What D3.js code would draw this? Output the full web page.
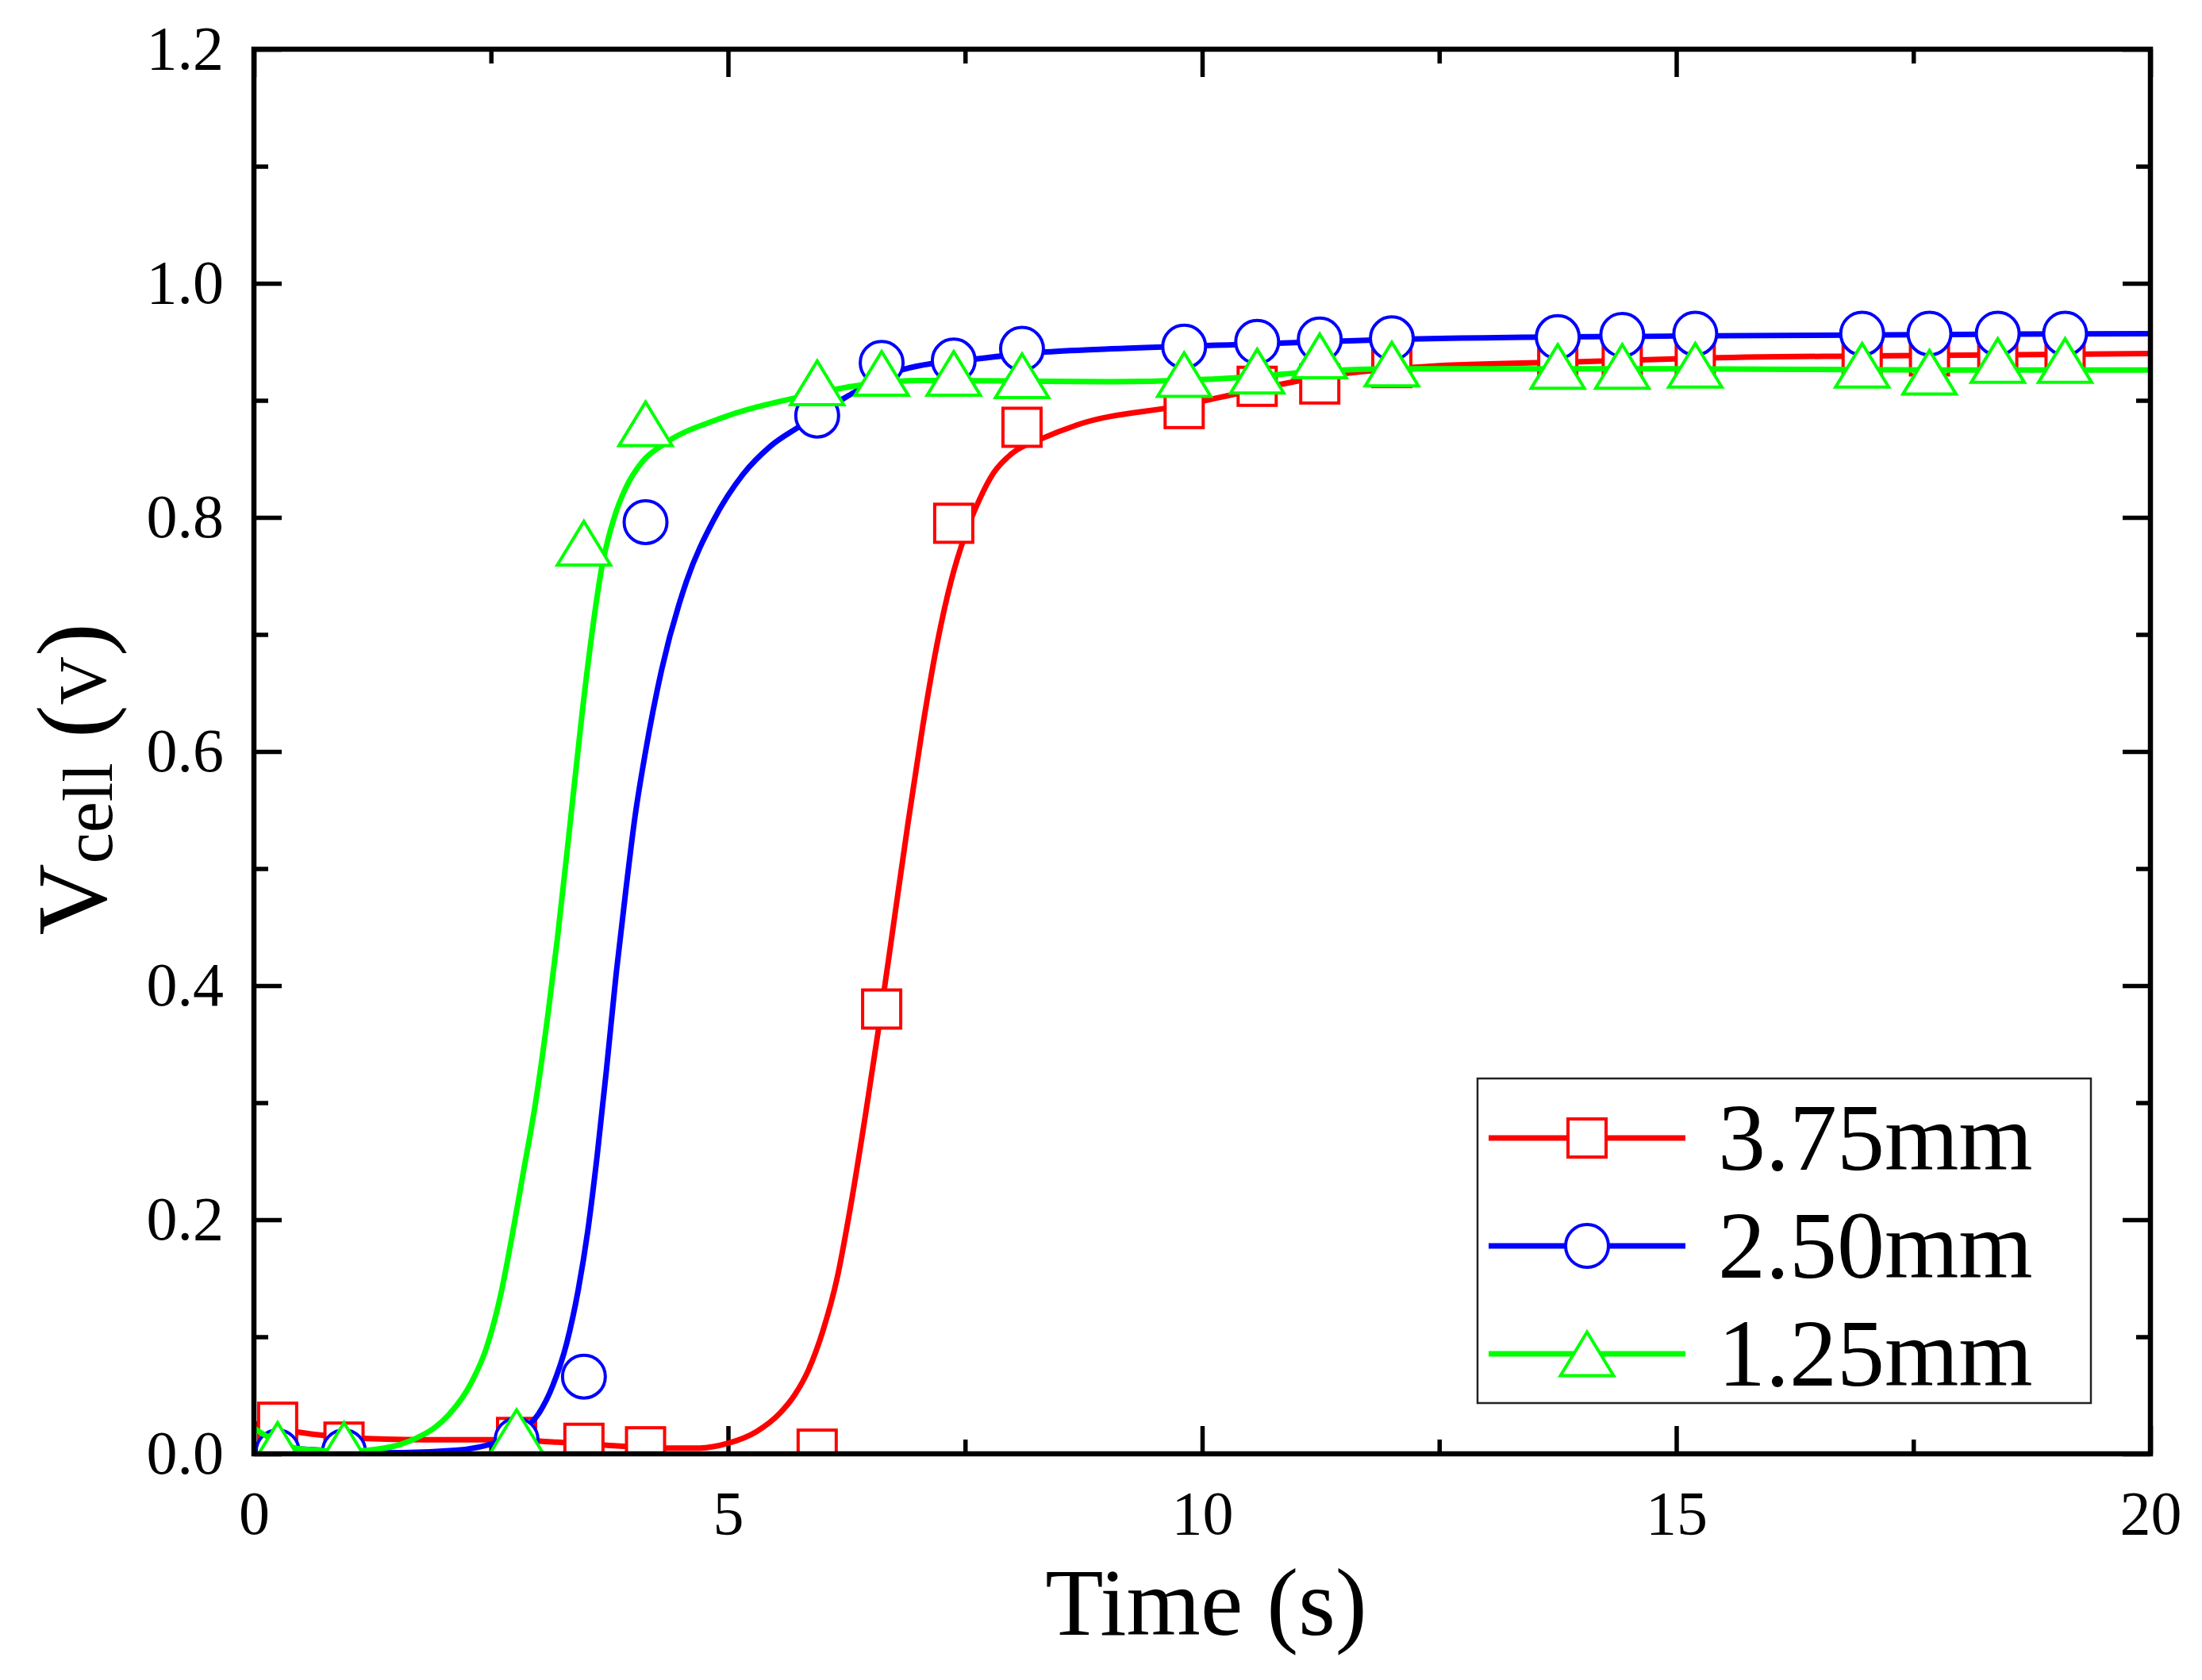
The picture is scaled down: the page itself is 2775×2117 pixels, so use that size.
<!DOCTYPE html>
<html>
<head>
<meta charset="utf-8">
<script src="https://cdn.jsdelivr.net/npm/d3@7"></script>
<style>
  body { margin: 0; background: #fff; }
  svg { display: block; }
</style>
</head>
<body>
<div id="chart"></div>
<script>
// values
const seriesNames = ["3.75mm", "2.50mm", "1.25mm"];
const seriesColors = ["#FF0000", "#0000FF", "#00FF00"];
const seriesSymbols = ["square", "circle", "triangle"];

const xTicks = [0, 5, 10, 15, 20];
const xMinorTicks = [2.5, 7.5, 12.5, 17.5];
const yTicks = [0, 0.2, 0.4, 0.6, 0.8, 1.0, 1.2];
const yMinorTicks = [0.1, 0.3, 0.5, 0.7, 0.9, 1.1];

// measured points (symbols)
const markerTimes = [0.25, 0.95, 2.77, 3.48, 4.13, 5.94, 6.62, 7.38, 8.10, 9.81,
                     10.58, 11.24, 12.0, 13.75, 14.43, 15.2, 16.96, 17.67, 18.39, 19.1];
const points375 = [0.027, 0.010, 0.014, 0.009, 0.006, 0.004, 0.380, 0.795, 0.877, 0.893,
                   0.912, 0.914, 0.928, 0.932, 0.934, 0.937, 0.938, 0.938, 0.938, 0.938];
const points250 = [0.002, 0.002, 0.012, 0.066, 0.796, 0.887, 0.932, 0.934, 0.944, 0.946,
                   0.950, 0.952, 0.953, 0.954, 0.956, 0.957, 0.957, 0.957, 0.957, 0.957];
const points125 = [0.008, 0.008, 0.019, 0.778, 0.880, 0.915, 0.923, 0.923, 0.921, 0.922,
                   0.925, 0.938, 0.931, 0.929, 0.929, 0.930, 0.930, 0.924, 0.934, 0.934];

// fitted curves [time, V]
const fit375 = [[0, 0.026], [0.6, 0.017], [1.2, 0.013], [2.0, 0.012], [2.6, 0.012], [3.2, 0.010],
  [3.8, 0.007], [4.3, 0.005], [4.7, 0.005], [5.0, 0.009], [5.3, 0.019], [5.55, 0.035], [5.7, 0.050],
  [5.85, 0.072], [6.0, 0.105], [6.15, 0.150], [6.3, 0.215], [6.45, 0.290], [6.6, 0.370],
  [6.75, 0.455], [6.9, 0.540], [7.05, 0.620], [7.2, 0.690], [7.35, 0.745], [7.5, 0.785],
  [7.65, 0.815], [7.8, 0.838], [8.0, 0.855], [8.3, 0.867], [8.68, 0.879], [9.81, 0.896],
  [10.5, 0.908], [11.24, 0.920], [12.38, 0.929], [14, 0.933], [15.2, 0.936], [17, 0.938], [20, 0.940]];
const fit250 = [[0, 0.008], [0.5, 0.004], [1.0, 0.002], [1.5, 0.001], [2.13, 0.003], [2.56, 0.010],
  [2.8, 0.019], [3.0, 0.034], [3.15, 0.058], [3.3, 0.095], [3.42, 0.140], [3.52, 0.190],
  [3.62, 0.255], [3.72, 0.330], [3.82, 0.410], [3.92, 0.480], [4.02, 0.545], [4.13, 0.600],
  [4.3, 0.670], [4.56, 0.745], [4.85, 0.798], [5.16, 0.837], [5.45, 0.861], [5.76, 0.878],
  [6.0, 0.891], [6.27, 0.904], [6.55, 0.917], [6.83, 0.926], [7.68, 0.936], [8.3, 0.941],
  [9.04, 0.944], [10.5, 0.948], [12, 0.952], [15, 0.955], [20, 0.957]];
const fit125 = [[0, 0.022], [0.25, 0.010], [0.5, 0.004], [1.0, 0.002], [1.2, 0.003], [1.5, 0.007],
  [1.7, 0.013], [1.9, 0.022], [2.05, 0.033], [2.3, 0.062], [2.45, 0.090], [2.6, 0.135],
  [2.72, 0.185], [2.84, 0.240], [2.97, 0.300], [3.1, 0.375], [3.2, 0.440], [3.33, 0.535],
  [3.46, 0.632], [3.56, 0.698], [3.67, 0.758], [3.8, 0.800], [3.92, 0.825], [4.1, 0.848],
  [4.31, 0.862], [4.9, 0.884], [5.76, 0.903], [6.4, 0.913], [7.04, 0.917], [9.04, 0.916],
  [10.5, 0.920], [11.24, 0.925], [12, 0.927], [15, 0.927], [17.67, 0.926], [20, 0.926]];

const pointSets = [points375, points250, points125];
const fitSets = [fit375, fit250, fit125];

const W = 2775, H = 2117;
const L = 320, R = 2710, T = 62, B = 1832;
const serif = "'Liberation Serif', 'Times New Roman', Times, serif";

const svg = d3.select("#chart").append("svg")
    .attr("width", W)
    .attr("height", H)
    .attr("viewBox", `0 0 ${W} ${H}`);

svg.append("rect").attr("width", W).attr("height", H).attr("fill", "#fff");

const x = d3.scaleLinear().domain([0, 20]).range([L, R]);
const y = d3.scaleLinear().domain([0, 1.2]).range([B, T]);

svg.append("clipPath").attr("id", "plotclip")
  .append("rect")
    .attr("x", L).attr("y", T)
    .attr("width", R - L).attr("height", B - T);

// axes, ticks pointing inward on all four sides
function styleAxis(g, fontSize) {
    g.select(".domain").remove();
    g.selectAll(".tick line").attr("stroke", "#000").attr("stroke-width", 5.5);
    g.attr("font-family", serif).attr("font-size", fontSize);
    g.selectAll(".tick text").attr("fill", "#000");
}

svg.append("g").attr("transform", `translate(0,${B})`)
    .call(d3.axisBottom(x).tickValues(xTicks).tickSize(-35).tickPadding(46).tickFormat(d3.format("d")))
    .call(g => styleAxis(g, 78));
svg.append("g").attr("transform", `translate(0,${B})`)
    .call(d3.axisBottom(x).tickValues(xMinorTicks).tickSize(-18).tickFormat(""))
    .call(g => styleAxis(g, 78));
svg.append("g").attr("transform", `translate(0,${T})`)
    .call(d3.axisTop(x).tickValues(xTicks).tickSize(-35).tickFormat(""))
    .call(g => styleAxis(g, 78));
svg.append("g").attr("transform", `translate(0,${T})`)
    .call(d3.axisTop(x).tickValues(xMinorTicks).tickSize(-18).tickFormat(""))
    .call(g => styleAxis(g, 78));

svg.append("g").attr("transform", `translate(${L},0)`)
    .call(d3.axisLeft(y).tickValues(yTicks).tickSize(-35).tickPadding(38).tickFormat(d3.format(".1f")))
    .call(g => styleAxis(g, 78));
svg.append("g").attr("transform", `translate(${L},0)`)
    .call(d3.axisLeft(y).tickValues(yMinorTicks).tickSize(-18).tickFormat(""))
    .call(g => styleAxis(g, 78));
svg.append("g").attr("transform", `translate(${R},0)`)
    .call(d3.axisRight(y).tickValues(yTicks).tickSize(-35).tickFormat(""))
    .call(g => styleAxis(g, 78));
svg.append("g").attr("transform", `translate(${R},0)`)
    .call(d3.axisRight(y).tickValues(yMinorTicks).tickSize(-18).tickFormat(""))
    .call(g => styleAxis(g, 78));

// symbols
function drawSymbol(sel, kind, color) {
    if (kind === "square") {
        sel.append("rect").attr("x", -24).attr("y", -24).attr("width", 48).attr("height", 48);
    } else if (kind === "circle") {
        sel.append("circle").attr("r", 27);
    } else {
        sel.append("path").attr("d", "M0,-27.5L33.5,27.5L-33.5,27.5Z");
    }
    sel.selectAll("rect,circle,path")
        .attr("fill", "#fff")
        .attr("stroke", color)
        .attr("stroke-width", 4);
}

const line = d3.line()
    .x(d => x(d[0]))
    .y(d => y(d[1]))
    .curve(d3.curveMonotoneX);

const plot = svg.append("g").attr("clip-path", "url(#plotclip)");

seriesNames.forEach((name, i) => {
    const s = plot.append("g").attr("class", "series");
    s.append("path")
        .datum(fitSets[i])
        .attr("d", line)
        .attr("fill", "none")
        .attr("stroke", seriesColors[i])
        .attr("stroke-width", 7);
    s.selectAll("g.mark")
        .data(markerTimes.map((t, k) => [t, pointSets[i][k]]))
        .enter()
        .append("g")
        .attr("class", "mark")
        .attr("transform", d => `translate(${x(d[0])},${y(d[1])})`)
        .each(function () { drawSymbol(d3.select(this), seriesSymbols[i], seriesColors[i]); });
});

// frame
svg.append("rect")
    .attr("x", L).attr("y", T)
    .attr("width", R - L).attr("height", B - T)
    .attr("fill", "none")
    .attr("stroke", "#000")
    .attr("stroke-width", 6.5);

// axis titles
svg.append("text")
    .attr("x", (L + R) / 2 + 5)
    .attr("y", 2060)
    .attr("text-anchor", "middle")
    .attr("font-family", serif)
    .attr("font-size", 120)
    .text("Time (s)");

const yTitle = svg.append("text")
    .attr("transform", "translate(133,982) rotate(-90)")
    .attr("text-anchor", "middle")
    .attr("font-family", serif)
    .attr("font-size", 125);
yTitle.append("tspan").text("V");
yTitle.append("tspan").attr("font-size", 88).attr("dy", 8).text("cell");
yTitle.append("tspan").attr("dy", -8).text(" (");
yTitle.append("tspan").attr("font-size", 85).text("V");
yTitle.append("tspan").text(")");

// legend
const legend = svg.append("g");
legend.append("rect")
    .attr("x", 1862).attr("y", 1359)
    .attr("width", 773).attr("height", 409)
    .attr("fill", "#fff")
    .attr("stroke", "#222")
    .attr("stroke-width", 2.5);

seriesNames.forEach((name, i) => {
    const ly = 1434 + i * 136;
    const item = legend.append("g");
    item.append("line")
        .attr("x1", 1876).attr("x2", 2124)
        .attr("y1", ly).attr("y2", ly)
        .attr("stroke", seriesColors[i])
        .attr("stroke-width", 7);
    const m = item.append("g").attr("transform", `translate(2000,${ly})`);
    drawSymbol(m, seriesSymbols[i], seriesColors[i]);
    item.append("text")
        .attr("x", 2165)
        .attr("y", ly + 40)
        .attr("font-family", serif)
        .attr("font-size", 120)
        .text(name);
});
</script>
</body>
</html>
